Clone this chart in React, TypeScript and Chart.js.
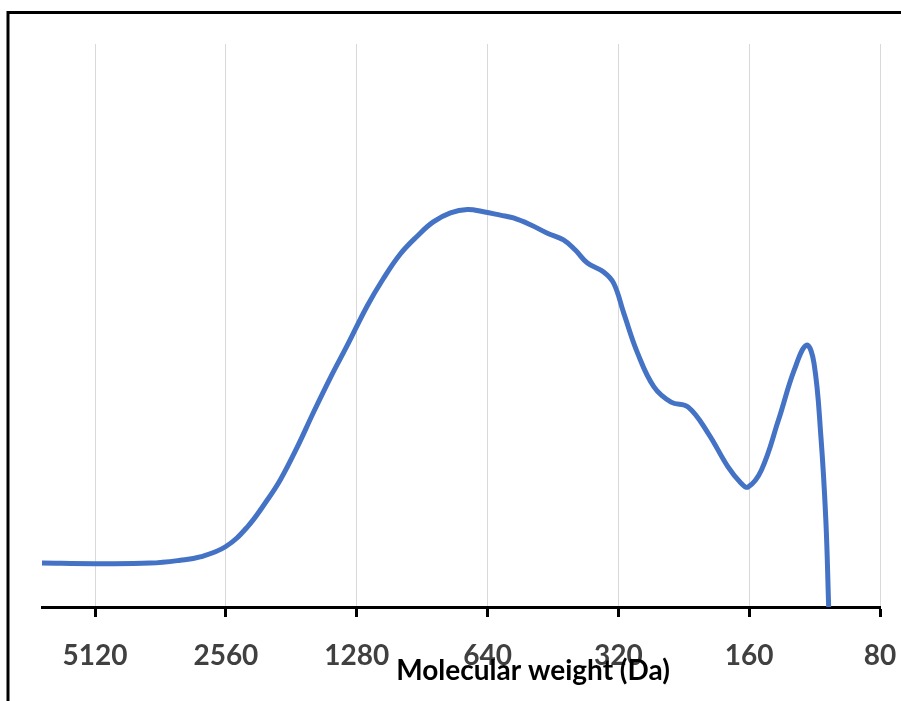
import React, { useEffect, useRef } from "react";
import { Chart, registerables } from "chart.js";

Chart.register(...registerables);

// Molecular weight (Da) of each traced point
const MOLECULAR_WEIGHT = [
  6782, 5120, 3823, 3259, 2935, 2566, 2286, 2056, 1918, 1754, 1611, 1472, 1345,
  1210, 1112, 1016, 928, 853, 779, 712, 654, 598, 558, 510, 466, 428, 402, 377,
  346, 328, 311, 289, 265, 242, 221, 199, 179, 167, 161, 150, 137, 126, 118,
  113.5, 109.4, 106.6, 105,
];
// Detector response (relative)
const RESPONSE = [
  7.8, 7.7, 7.8, 8.3, 8.9, 10.7, 14.2, 19.0, 22.6, 28.4, 34.5, 40.7, 46.5, 53.5,
  58.3, 62.7, 65.9, 68.4, 70.0, 70.6, 70.2, 69.6, 69.1, 67.9, 66.4, 65.2, 63.4,
  61.1, 59.5, 57.5, 52.2, 45.1, 39.1, 36.4, 35.5, 30.9, 24.9, 22.0, 21.3, 24.3,
  33.2, 42.1, 46.5, 43.3, 30.2, 15.5, 0,
];
const TICK_VALUES = [5120, 2560, 1280, 640, 320, 160, 80];
const X_MIN = 80;
const X_MAX = 6782;
const X_TITLE = "Molecular weight (Da)";

const FONT = "Lato, 'Open Sans', 'Liberation Sans', sans-serif";

const framePlugin = {
  id: "frameAndTitle",
  afterDraw(chart: any) {
    const ctx = chart.ctx;
    const area = chart.chartArea;
    const xs = chart.scales.x;
    ctx.save();
    ctx.strokeStyle = "#000000";
    ctx.lineWidth = 3;
    ctx.strokeRect(8, 12.5, 2000, 2000);
    ctx.fillStyle = "#000000";
    ctx.font = `bold 28px ${FONT}`;
    ctx.textAlign = "center";
    ctx.textBaseline = "middle";
    ctx.fillText(X_TITLE, area.left + (area.right - area.left) * 0.586, xs.top + 64);
    ctx.restore();
  },
};

export default function App() {
  const ref = useRef<HTMLCanvasElement | null>(null);
  useEffect(() => {
    if (!ref.current) return;
    const data = MOLECULAR_WEIGHT.map((mw, i) => ({ x: mw, y: RESPONSE[i] }));
    const chart = new Chart(ref.current, {
      type: "line",
      data: {
        datasets: [
          {
            data,
            borderColor: "#4472C4",
            borderWidth: 5,
            pointRadius: 0,
            fill: false,
            tension: 0.4,
            borderCapStyle: "round",
            borderJoinStyle: "round",
          },
        ],
      },
      options: {
        responsive: false,
        animation: false,
        layout: { padding: { left: 42, right: 21, top: 44, bottom: 0 } },
        plugins: {
          legend: { display: false },
          tooltip: { enabled: false },
          title: { display: false },
        },
        scales: {
          x: {
            type: "logarithmic",
            reverse: true,
            min: X_MIN,
            max: X_MAX,
            afterBuildTicks: (scale: any) => {
              scale.ticks = TICK_VALUES.map((v) => ({ value: v }));
            },
            afterFit: (scale: any) => {
              scale.height = 94;
              scale.paddingLeft = 0;
              scale.paddingRight = 0;
            },
            ticks: {
              autoSkip: false,
              maxRotation: 0,
              minRotation: 0,
              padding: 22,
              color: "#404040",
              font: { family: FONT, size: 28, weight: "bold" },
              callback: (v: any) => String(v),
            },
            grid: {
              color: "#d9d9d9",
              lineWidth: 1,
              tickColor: "#000000",
              tickWidth: 3,
              tickLength: 10,
            },
            border: { color: "#000000", width: 3 },
          },
          y: {
            display: false,
            min: 0,
            max: 100,
          },
        },
      },
      plugins: [framePlugin],
    });
    return () => chart.destroy();
  }, []);
  return (
    <div style={{ position: "fixed", left: 0, top: 0, width: 901, height: 701, background: "#ffffff" }}>
      <canvas ref={ref} width={901} height={701} style={{ display: "block" }} />
    </div>
  );
}
